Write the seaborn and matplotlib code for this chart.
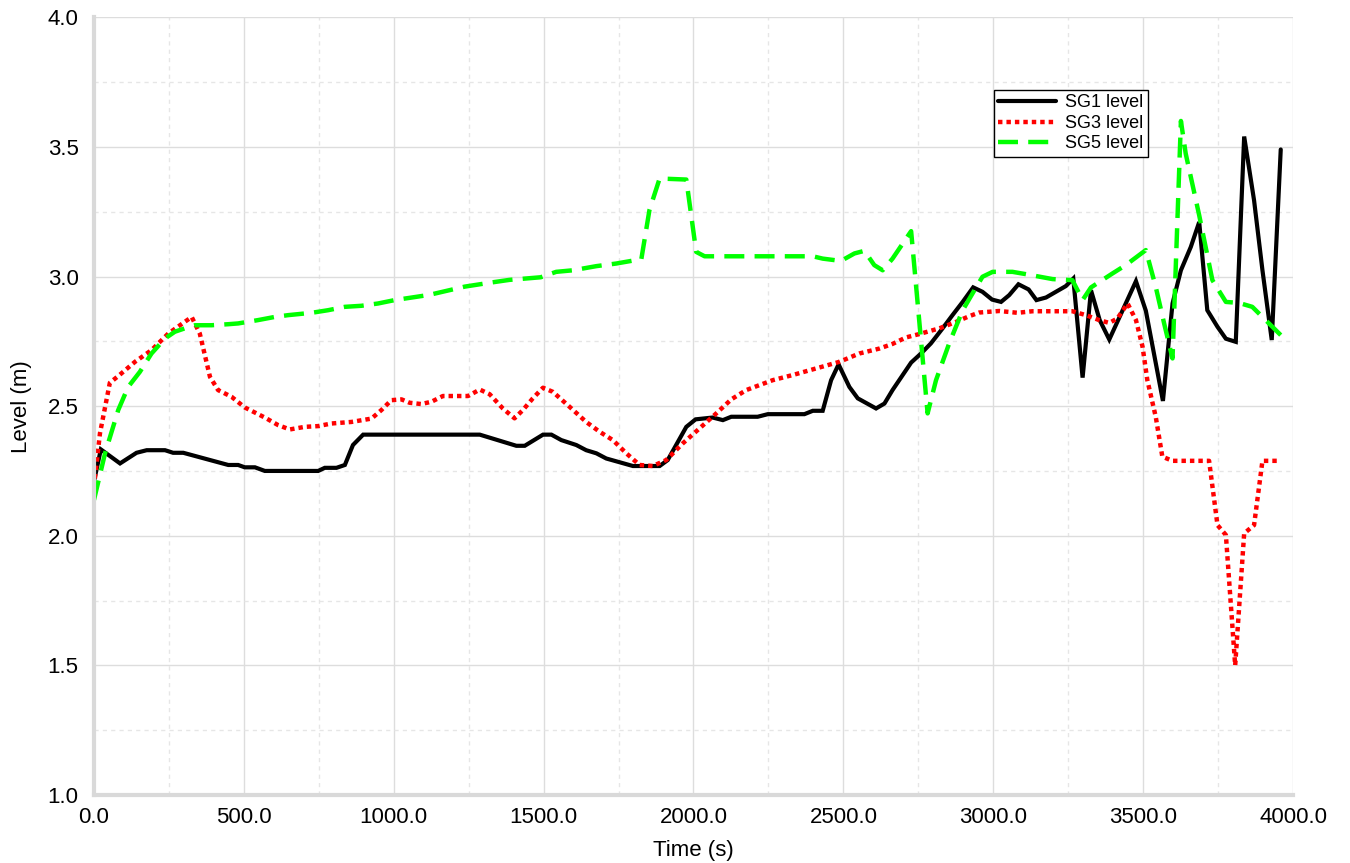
import matplotlib
matplotlib.use("Agg")
import matplotlib.pyplot as plt
from matplotlib.ticker import MultipleLocator, FormatStrFormatter
import numpy as np
import pandas as pd
import seaborn as sns

# SG1 level (black, solid)
sg1_time = [0, 23, 87, 142, 176, 237, 264, 298, 448, 481, 503, 537, 570, 748, 770, 809,
            837, 864, 898, 1287, 1409, 1437, 1498, 1526, 1559, 1609, 1642, 1676, 1709,
            1798, 1887, 1914, 1976, 2007, 2064, 2098, 2126, 2214, 2248, 2370, 2398, 2431,
            2459, 2484, 2520, 2548, 2609, 2637, 2664, 2726, 2759, 2792, 2831, 2864, 2898,
            2933, 2964, 2996, 3026, 3053, 3084, 3118, 3144, 3176, 3209, 3242, 3267, 3298,
            3326, 3355, 3387, 3476, 3509, 3566, 3598, 3626, 3659, 3687, 3714, 3748, 3776,
            3809, 3837, 3870, 3898, 3929, 3959]
sg1_level = [2.21, 2.333, 2.279, 2.32, 2.33, 2.33, 2.32, 2.32, 2.273, 2.273, 2.264, 2.264,
             2.25, 2.25, 2.262, 2.262, 2.273, 2.35, 2.39, 2.39, 2.347, 2.347, 2.39, 2.39,
             2.369, 2.35, 2.33, 2.318, 2.298, 2.269, 2.269, 2.292, 2.42, 2.449, 2.456,
             2.446, 2.459, 2.459, 2.469, 2.469, 2.482, 2.482, 2.60, 2.661, 2.574, 2.53,
             2.491, 2.51, 2.562, 2.668, 2.703, 2.742, 2.80, 2.851, 2.902, 2.958, 2.941,
             2.911, 2.902, 2.928, 2.97, 2.95, 2.909, 2.919, 2.941, 2.963, 2.992, 2.61,
             2.947, 2.832, 2.757, 2.982, 2.868, 2.52, 2.896, 3.024, 3.114, 3.21, 2.87,
             2.806, 2.76, 2.748, 3.54, 3.294, 3.024, 2.755, 3.49]

# SG3 level (red, dotted)
sg3_time = [0, 20, 53, 81, 137, 192, 248, 326, 353, 387, 414, 459, 503, 570, 614, 653, 703,
            748, 792, 859, 926, 959, 992, 1026, 1053, 1092, 1126, 1164, 1248, 1287, 1320,
            1364, 1403, 1431, 1464, 1498, 1531, 1587, 1642, 1687, 1731, 1776, 1820, 1864,
            1909, 1964, 2020, 2076, 2126, 2176, 2220, 2264, 2331, 2420, 2487, 2553, 2620,
            2664, 2709, 2753, 2820, 2876, 2920, 2953, 3020, 3081, 3131, 3264, 3309, 3353,
            3387, 3414, 3448, 3476, 3498, 3514, 3542, 3564, 3598, 3720, 3748, 3776, 3807,
            3837, 3870, 3898, 3953]
sg3_level = [2.189, 2.395, 2.59, 2.616, 2.671, 2.716, 2.78, 2.844, 2.78, 2.613, 2.562,
             2.536, 2.495, 2.456, 2.427, 2.41, 2.42, 2.423, 2.433, 2.439, 2.452, 2.485,
             2.523, 2.526, 2.513, 2.508, 2.517, 2.539, 2.539, 2.564, 2.546, 2.491, 2.453,
             2.485, 2.53, 2.571, 2.555, 2.497, 2.439, 2.401, 2.369, 2.318, 2.273, 2.269,
             2.292, 2.356, 2.414, 2.472, 2.526, 2.562, 2.581, 2.60, 2.62, 2.649, 2.671,
             2.703, 2.722, 2.74, 2.765, 2.778, 2.80, 2.825, 2.847, 2.861, 2.867, 2.86,
             2.866, 2.866, 2.851, 2.832, 2.821, 2.838, 2.896, 2.832, 2.729, 2.60, 2.459,
             2.305, 2.289, 2.289, 2.041, 2.003, 1.50, 2.009, 2.041, 2.289, 2.289]

# SG5 level (green, dashed)
sg5_time = [0, 37, 81, 114, 153, 192, 237, 270, 303, 337, 392, 448, 481, 548, 603, 648,
            726, 781, 837, 892, 948, 1003, 1118, 1237, 1326, 1386, 1490, 1542, 1598, 1676,
            1742, 1826, 1853, 1887, 1976, 2009, 2037, 2398, 2431, 2492, 2537, 2570, 2603,
            2631, 2664, 2726, 2781, 2809, 2853, 2898, 2931, 2964, 2998, 3064, 3109, 3198,
            3264, 3298, 3326, 3398, 3442, 3509, 3542, 3570, 3598, 3626, 3642, 3687, 3731,
            3776, 3820, 3864, 3959]
sg5_level = [2.138, 2.318, 2.485, 2.574, 2.632, 2.703, 2.761, 2.787, 2.80, 2.812, 2.812,
             2.816, 2.819, 2.832, 2.844, 2.851, 2.86, 2.87, 2.883, 2.887, 2.896, 2.909,
             2.929, 2.961, 2.977, 2.987, 2.997, 3.018, 3.024, 3.04, 3.05, 3.067, 3.256,
             3.378, 3.374, 3.095, 3.078, 3.078, 3.069, 3.06, 3.089, 3.099, 3.044, 3.024,
             3.069, 3.175, 2.472, 2.60, 2.742, 2.87, 2.935, 2.999, 3.018, 3.018, 3.009,
             2.99, 2.986, 2.909, 2.958, 3.012, 3.044, 3.102, 2.96, 2.819, 2.684, 3.60,
             3.474, 3.236, 2.986, 2.902, 2.898, 2.883, 2.774]

sns.set_style("white")
plt.rcParams['font.family'] = ['Liberation Sans', 'DejaVu Sans']
plt.rcParams['text.color'] = 'black'
plt.rcParams['axes.labelcolor'] = 'black'
plt.rcParams['xtick.color'] = 'black'
plt.rcParams['ytick.color'] = 'black'

fig = plt.figure(figsize=(13.5, 8.63), dpi=100)
ax = fig.add_axes([0.0696, 0.0788, 0.8882, 0.9012])

sns.lineplot(x=sg1_time, y=sg1_level, ax=ax, color='black', lw=3.0,
             solid_joinstyle='miter', estimator=None, sort=False, label='SG1 level')
sns.lineplot(x=sg3_time, y=sg3_level, ax=ax, color='#ff0000', lw=3.2,
             linestyle=(0, (1.0, 0.9)), estimator=None, sort=False, label='SG3 level')
sns.lineplot(x=sg5_time, y=sg5_level, ax=ax, color='#00ff00', lw=3.2,
             linestyle=(0, (4.5, 2.3)), estimator=None, sort=False, label='SG5 level')

ax.set_xlim(0, 4000)
ax.set_ylim(1.0, 4.0)
ax.xaxis.set_major_locator(MultipleLocator(500))
ax.xaxis.set_minor_locator(MultipleLocator(250))
ax.yaxis.set_major_locator(MultipleLocator(0.5))
ax.yaxis.set_minor_locator(MultipleLocator(0.25))
ax.xaxis.set_major_formatter(FormatStrFormatter('%.1f'))
ax.yaxis.set_major_formatter(FormatStrFormatter('%.1f'))

ax.grid(which='major', color='#dddddd', lw=1.0, ls='-')
ax.grid(which='minor', color='#e6e6e6', lw=1.0, ls=(0, (3, 3)))
ax.set_axisbelow(True)
ax.tick_params(which='both', length=0)
ax.tick_params(axis='y', labelsize=16, pad=11)
ax.tick_params(axis='x', labelsize=16, pad=9)

for side in ['top', 'right']:
    ax.spines[side].set_visible(False)
for side in ['left', 'bottom']:
    ax.spines[side].set_color('#d9d9d9')
    ax.spines[side].set_linewidth(3)

ax.set_xlabel('Time (s)', fontsize=16, labelpad=8)
ax.set_ylabel('Level (m)', fontsize=16, labelpad=11)

leg = ax.legend(loc='upper left', bbox_to_anchor=(0.736, 0.896), bbox_transform=fig.transFigure,
                borderaxespad=0, fontsize=13, handlelength=3.2, handletextpad=0.5,
                labelspacing=0.2, borderpad=0.25, fancybox=False, framealpha=1)
leg.get_frame().set_edgecolor('black')
leg.get_frame().set_linewidth(1.0)

fig.savefig('out.png', dpi=100)
